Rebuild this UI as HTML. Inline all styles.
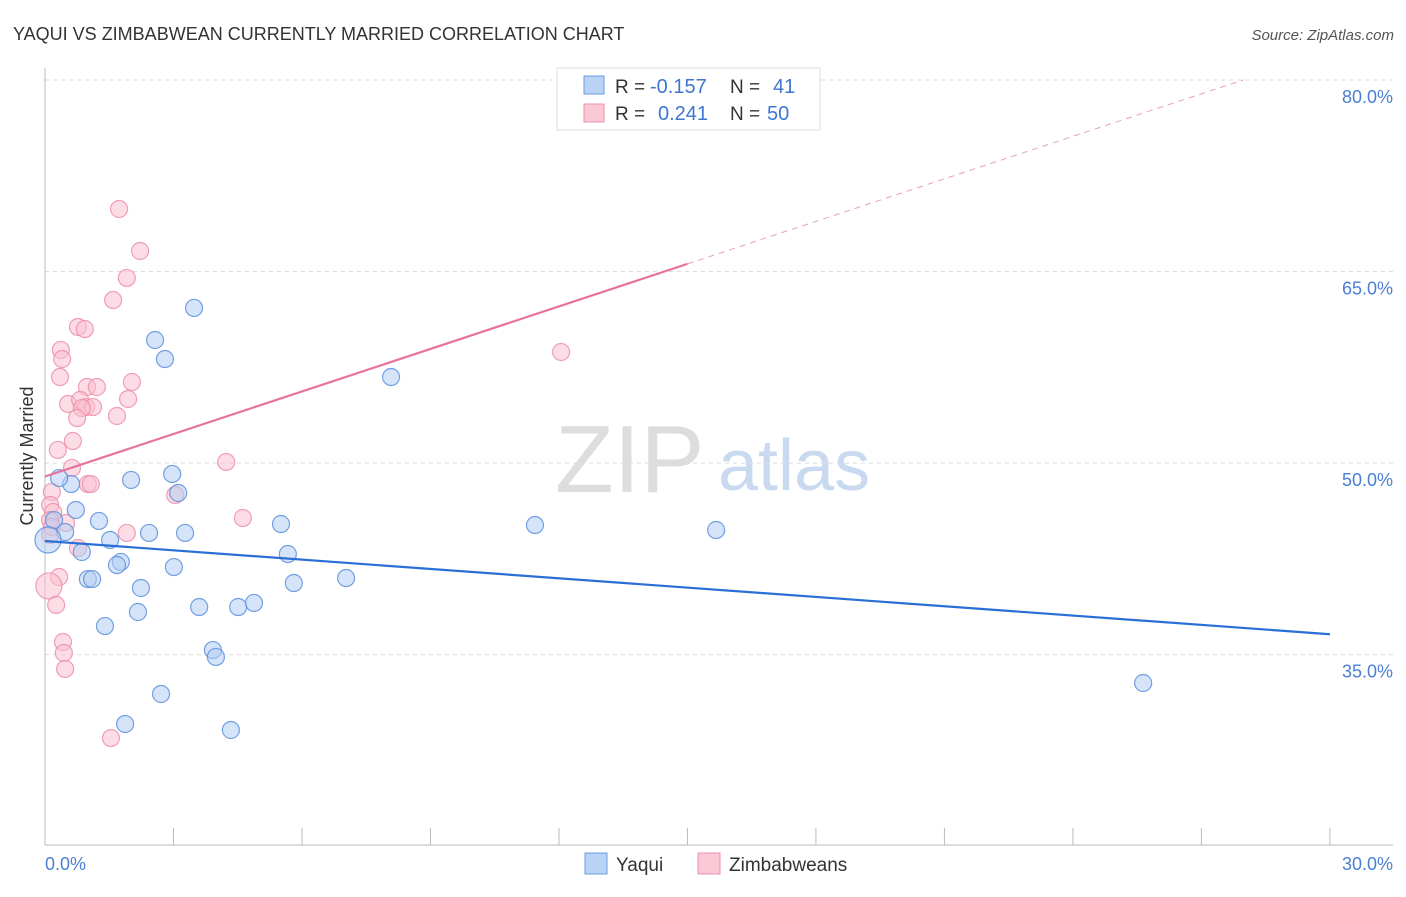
<!DOCTYPE html>
<html><head><meta charset="utf-8"><style>
body{margin:0;background:#fff;font-family:"Liberation Sans",sans-serif;}
svg text{font-family:"Liberation Sans",sans-serif;}
</style></head><body>
<svg id="chart" width="1406" height="892" viewBox="0 0 1406 892">
<text x="13" y="40" font-size="18" fill="#333">YAQUI VS ZIMBABWEAN CURRENTLY MARRIED CORRELATION CHART</text>
<text x="1394" y="40" font-size="15" fill="#555" text-anchor="end" font-style="italic">Source: ZipAtlas.com</text>
<text x="555" y="492" font-size="96" fill="#ddd" font-family="Liberation Serif">ZIP</text>
<text x="718" y="490" font-size="72" fill="#c9daf0">atlas</text>
<g id="grid"></g>
<g id="axes"></g>
<g id="marks"></g>
<text x="33" y="456" font-size="18" fill="#333" text-anchor="middle" transform="rotate(-90 33 456)">Currently Married</text>
<text x="45" y="870" font-size="18" fill="#4a7fd4">0.0%</text>
<text x="1393" y="870" font-size="18" fill="#4a7fd4" text-anchor="end">30.0%</text>
<g>
<rect x="557" y="68" width="263" height="62" fill="#fff" stroke="#ddd"/>
<rect x="584" y="76" width="20" height="18" fill="#b9d3f5" stroke="#6b9be0"/>
<rect x="584" y="104" width="20" height="18" fill="#fbc8d6" stroke="#ec8fab"/>
<text x="615" y="93" font-size="19" fill="#333">R = </text><text x="650" y="93" font-size="20" fill="#3d77d0">-0.157</text>
<text x="730" y="93" font-size="19" fill="#333">N = </text><text x="773" y="93" font-size="20" fill="#3d77d0">41</text>
<text x="615" y="120" font-size="19" fill="#333">R = </text><text x="658" y="120" font-size="20" fill="#3d77d0">0.241</text>
<text x="730" y="120" font-size="19" fill="#333">N = </text><text x="767" y="120" font-size="20" fill="#3d77d0">50</text>
</g>
<g>
<rect x="585" y="853" width="22" height="21" fill="#b9d3f5" stroke="#6b9be0"/>
<text x="616" y="871" font-size="19" fill="#333">Yaqui</text>
<rect x="698" y="853" width="22" height="21" fill="#fbc8d6" stroke="#ec8fab"/>
<text x="729" y="871" font-size="19" fill="#333">Zimbabweans</text>
</g>
</svg>
<script>
const yTicks=[80,65,50,35];
const yaquiX=[3.48,2.57,2.80,8.08,2.01,2.97,3.11,0.61,0.33,0.72,1.26,0.21,0.47,2.43,3.27,1.52,0.86,1.77,1.68,3.01,1.00,1.10,2.24,5.51,5.67,5.81,7.03,11.44,15.67,3.60,4.51,4.88,2.17,1.40,3.92,3.99,2.71,1.87,4.34,25.64,0.07];
const yaquiY=[62.15,59.64,58.15,56.74,48.68,49.15,47.66,48.36,48.83,46.33,45.47,45.54,44.6,44.53,44.53,43.98,43.04,42.26,42.02,41.86,40.92,40.92,40.22,45.23,42.88,40.61,41.0,45.15,44.76,38.73,38.73,39.05,38.34,37.24,35.36,34.82,31.92,29.57,29.1,32.78,43.98];
const zimX=[1.73,2.22,1.91,1.59,0.77,0.93,0.37,0.40,0.35,0.98,1.21,2.03,0.54,0.82,0.96,1.12,0.86,1.94,1.68,0.75,0.65,0.30,12.05,4.23,0.63,1.00,1.07,0.16,3.04,0.12,0.19,0.49,0.12,0.16,4.62,1.91,0.77,0.12,0.33,0.09,0.26,0.42,0.44,0.47,1.54];
const zimY=[69.9,66.61,64.5,62.77,60.66,60.5,58.86,58.15,56.74,55.96,55.96,56.35,54.63,54.94,54.39,54.39,54.31,55.02,53.69,53.53,51.73,51.03,58.7,50.09,49.62,48.36,48.36,47.74,47.5,46.72,46.17,45.31,45.54,45.0,45.7,44.53,43.35,44.37,41.08,40.38,38.89,35.99,35.13,33.88,28.47];
const yaquiLine=[43.9,36.6];
const zimLine=[48.95,65.6];
const NS='http://www.w3.org/2000/svg';
const X=v=>45+v*42.83, Y=v=>80+(80-v)*12.77;
function mk(t,a,p){const e=document.createElementNS(NS,t);for(const k in a)e.setAttribute(k,a[k]);p.appendChild(e);return e;}
const grid=document.getElementById('grid'),axes=document.getElementById('axes'),marks=document.getElementById('marks');
yTicks.forEach(t=>{
 const l=mk('line',{x1:45,x2:1393,y1:Y(t),y2:Y(t),stroke:'#ddd','stroke-dasharray':'4,4'},grid);
 
 
 const tx=mk('text',{x:1393,y:Y(t)+23,'font-size':18,fill:'#4a7fd4','text-anchor':'end'},grid);
 tx.textContent=t.toFixed(1)+'%';
 
 
});
mk('line',{x1:45,x2:45,y1:68,y2:845,stroke:'#bbb'},axes);
mk('line',{x1:45,x2:1393,y1:845,y2:845,stroke:'#bbb'},axes);
for(let i=0;i<=10;i++){const tk=mk('line',{x1:X(i*3),x2:X(i*3),y1:828,y2:845,stroke:'#bbb'},axes);
 
 }
function pts(xs,ys,fill,stroke,name){xs.forEach((x,i)=>{
 const big=(x<0.1);
 const c=mk('circle',{cx:X(x),cy:Y(ys[i]),r:big?13:8.5,fill:fill,'fill-opacity':0.55,stroke:stroke,'stroke-width':1.2,'stroke-opacity':0.85},marks);
 
 });}
pts(zimX,zimY,'#f9c0d0','#ec8fab','zimbabwean-point');
pts(yaquiX,yaquiY,'#b3cdf2','#5d90dc','yaqui-point');
let l1=mk('line',{x1:X(0),y1:Y(yaquiLine[0]),x2:X(30),y2:Y(yaquiLine[1]),stroke:'#2a6fd6','stroke-width':2.2},marks);


const s=(zimLine[1]-zimLine[0])/15;
let l2=mk('line',{x1:X(0),y1:Y(zimLine[0]),x2:X(15),y2:Y(zimLine[1]),stroke:'#e8729a','stroke-width':2.2},marks);


const xe=(80-zimLine[0])/s;
let l3=mk('line',{x1:X(15),y1:Y(zimLine[1]),x2:X(xe),y2:Y(80),stroke:'#e8a0b8','stroke-width':1,'stroke-dasharray':'6,5'},marks);


</script>
</body></html>
